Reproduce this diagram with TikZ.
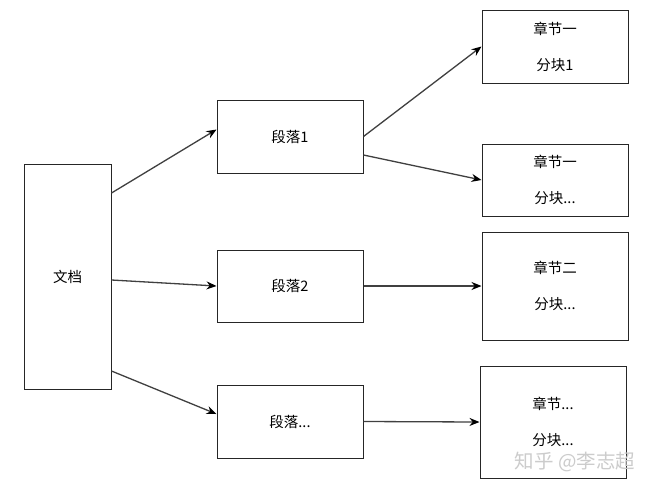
\documentclass[tikz,border=0pt]{standalone}
\usepackage{fontspec}
\setmainfont{Noto Sans CJK SC}
\usetikzlibrary{arrows.meta}
\begin{document}
\begin{tikzpicture}[x=1pt,y=-1pt,
  box/.style={draw=black!85,line width=1pt,inner sep=0pt,font=\fontsize{14.5}{36}\selectfont,align=center},
  link/.style={draw=black!75,line width=1.3pt,-{Stealth[length=10pt,width=8pt,black]}}]
\useasboundingbox[fill=white] (0,0) rectangle (653,491);
\node[box,minimum width=87pt,minimum height=225pt] (doc) at (67.5,276.5) {文档};
\node[box,minimum width=146pt,minimum height=73pt] (p1) at (290,136.5) {段落1};
\node[box,minimum width=146pt,minimum height=72pt] (p2) at (290,286) {段落2};
\node[box,minimum width=146pt,minimum height=73pt] (p3) at (290,421.5) {段落...};
\node[box,minimum width=146pt,minimum height=73pt] (c1) at (555,46.5) {章节一\\分块1};
\node[box,minimum width=146pt,minimum height=72pt] (c2) at (555,180) {章节一\\分块...};
\node[box,minimum width=146pt,minimum height=108pt] (c3) at (555,286) {章节二\\分块...};
\node[box,minimum width=146pt,minimum height=112pt] (c4) at (553,422) {章节...\\分块...};
\draw[link] ([yshift=83.5pt]doc.east) -- ([yshift=7pt]p1.west);
\draw[link] ([yshift=-3.5pt]doc.east) -- (p2.west);
\draw[link] ([yshift=-94.5pt]doc.east) -- ([yshift=7.5pt]p3.west);
\draw[link] (p1.east) -- (c1.west);
\draw[link] ([yshift=-18.5pt]p1.east) -- (c2.west);
\draw[link] (p2.east) -- (c3.west);
\draw[link] (p3.east) -- (c4.west);
\node[text=black!20,font=\fontsize{19.5}{22}\selectfont,inner sep=0pt] (wm) at (575,462) {知乎 @李志超};
\end{tikzpicture}
\end{document}
